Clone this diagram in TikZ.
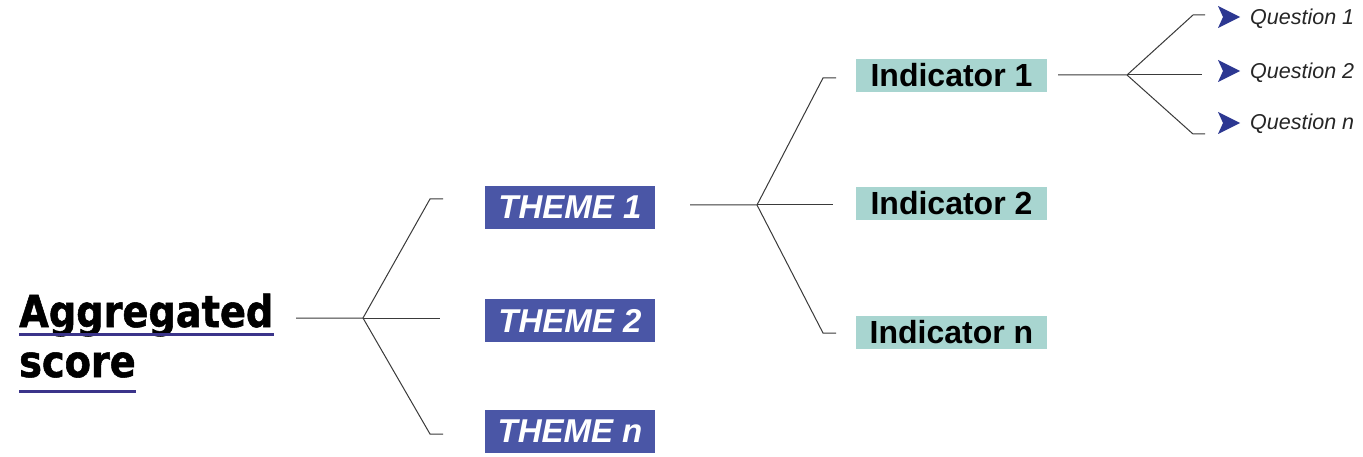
\documentclass[tikz,border=0pt]{standalone}
\usepackage{fontspec}
\setmainfont{Liberation Sans}
\newfontfamily\aggfont[FakeStretch=0.87,FakeBold=1.2]{DejaVu Sans Bold}
\definecolor{themeblue}{HTML}{4A56A6}
\definecolor{indteal}{HTML}{A8D5D0}
\definecolor{dartblue}{HTML}{2C3791}
\definecolor{ulblue}{HTML}{3B348A}
\definecolor{linegray}{HTML}{3A3A3A}
\tikzset{
  themebox/.style={fill=themeblue, text=white, inner sep=0pt,
    minimum width=170pt, minimum height=43pt,
    font=\fontsize{33}{33}\selectfont\bfseries\itshape},
  indbox/.style={fill=indteal, text=black, inner sep=0pt,
    minimum width=191pt, minimum height=33pt,
    font=\fontsize{32}{32}\selectfont\bfseries},
  question/.style={anchor=base west, inner sep=0pt, text=black!85,
    font=\fontsize{21.5}{21.5}\selectfont\itshape},
  aggtext/.style={anchor=base west, inner sep=0pt,
    font=\fontsize{44}{44}\aggfont},
  uline/.style={draw=ulblue, line width=3pt},
  branch/.style={draw=linegray, line width=1pt},
  dart/.pic={\fill[dartblue] (-11,-11) -- (11,0) -- (-11,11) -- (-6,0) -- cycle;}
}
\begin{document}
\begin{tikzpicture}[x=1pt,y=-1pt]
\fill[white] (0,0) rectangle (1363,457);
\useasboundingbox (0,0) rectangle (1363,457);

% root label
\node[aggtext] (agg1) at (19,327) {Aggregated};
\node[aggtext] (agg2) at (19,377) {score};
\draw[uline] ([yshift=-7pt]agg1.base west) -- ([yshift=-7pt]agg1.base east);
\draw[uline] ([yshift=-14pt]agg2.base west) -- ([yshift=-14pt]agg2.base east);

% themes
\node[themebox] (t1) at (570,207.5) {THEME 1};
\node[themebox] (t2) at (570,320.5) {THEME 2};
\node[themebox] (tn) at (570,431.5) {THEME n};

% indicators
\node[indbox] (i1) at (951.5,75.5) {Indicator 1};
\node[indbox] (i2) at (951.5,203.5) {Indicator 2};
\node[indbox] (in) at (951.5,332) {Indicator n};

% questions
\pic at (1229,17) {dart};
\pic at (1229,71) {dart};
\pic at (1229,123) {dart};
\node[question] (q1) at (1250,25) {Question 1};
\node[question] (q2) at (1250,79) {Question 2};
\node[question] (qn) at (1250,130) {Question n};

% branching connectors
\coordinate (s1) at (296,318);  \coordinate (j1) at (363,318);
\coordinate (s2) at (690,205);  \coordinate (j2) at (757,205);
\coordinate (s3) at (1058,75);  \coordinate (j3) at (1127,75);

\draw[branch] (s1) -- (j1) -- (430,199) -- (443,199);
\draw[branch] (j1) -- (440,318);
\draw[branch] (j1) -- (430,434) -- (443,434);

\draw[branch] (s2) -- (j2) -- (823,78) -- (836,78);
\draw[branch] (j2) -- (833,205);
\draw[branch] (j2) -- (823,333) -- (836,333);

\draw[branch] (s3) -- (j3) -- (1193,15) -- (1205,15);
\draw[branch] (j3) -- (1202,75);
\draw[branch] (j3) -- (1193,134) -- (1205,134);
\end{tikzpicture}
\end{document}
